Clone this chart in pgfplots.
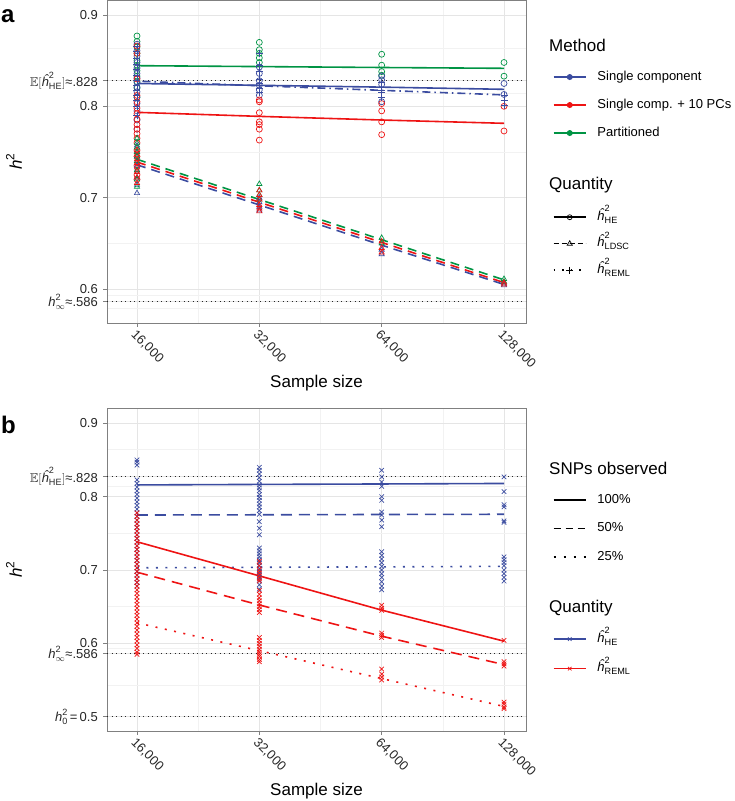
\documentclass[border=0pt]{standalone}
\usepackage{amsmath,amssymb}
\usepackage{fontspec}
\setmainfont{Liberation Sans}
\usepackage{pgfplots}
\pgfplotsset{compat=1.18}
\definecolor{cblue}{RGB}{59,76,160}
\definecolor{cred}{RGB}{238,20,20}
\definecolor{cgreen}{RGB}{0,148,68}
\newcommand{\hh}[1]{$\text{\itshape ĥ}^{\text{2}}_{\text{#1}}$}
\newcommand{\EHE}{$\mathbb{E}[\text{\itshape ĥ}^{\text{2}}_{\text{HE}}]$≈.828}
\newcommand{\hinf}{$\text{\itshape h}^{\text{2}}_{\infty}$≈.586}
\newcommand{\hzero}{$\text{\itshape h}^{\text{2}}_{\text{0}}$\,=\,0.5}
\pgfplotsset{
  mypanel/.style={
    scale only axis, width=419pt, height=323pt, anchor=south west,
    xmin=13500, xmax=145000,
    xtick={16000,32000,64000,128000},
    xticklabels={{16,000},{32,000},{64,000},{128,000}},
    minor xtick={22627,45255,90510},
    grid=both,
    major grid style={black!10, line width=0.9pt},
    minor grid style={black!5, line width=0.5pt},
    axis line style={black!50, line width=0.8pt},
    tick align=outside, major tick length=4pt, minor tick length=0pt,
    tick pos=left,
    major tick style={black!50, line width=0.8pt},
    tick label style={font=\fontsize{13}{13}\selectfont, text=black!85},
    xticklabel style={rotate=-45, anchor=north west, inner sep=1pt},
    yticklabel style={inner sep=2pt, xshift=-3pt},
    label style={font=\fontsize{17}{17}\selectfont},
    xlabel={Sample size},
    ylabel={$\text{\itshape h}^{\text{2}}$},
    xlabel style={at={(axis description cs:0.5,-0.186)}, anchor=center},
    ylabel style={at={(axis description cs:-0.222,0.5)}, anchor=center},
  },
  myleg/.style={
    scale only axis, width=419pt, height=323pt, anchor=south west, hide axis,
    xmin=0, xmax=1, ymin=0, ymax=1,
    legend cell align=left,
    legend image code/.code={\draw[mark repeat=2,mark phase=2] plot coordinates {(0pt,0pt)(16pt,0pt)(32pt,0pt)};},
    legend style={draw=none, fill=none, anchor=north west, inner sep=0pt, outer sep=0pt,
       font=\fontsize{13}{13}\selectfont, row sep=11pt,
       /tikz/every odd column/.append style={column sep=9pt},
       nodes={inner sep=2pt, text height=9.5pt, text depth=3pt}},
  },
  myref/.style={black!85, line width=1.1pt, dash pattern=on 1.1pt off 3.4pt},
  mypts/.style={only marks, mark size=3pt, mark options={line width=0.7pt, solid}},
  myfit/.style={line width=1.6pt, no marks},
}
\begin{document}
\begin{tikzpicture}
\path[use as bounding box] (0,0) rectangle (735pt,801pt);
\node[anchor=west, font=\bfseries\fontsize{24}{24}\selectfont, inner sep=0pt] at (1pt,785pt) {a};
\node[anchor=west, font=\bfseries\fontsize{24}{24}\selectfont, inner sep=0pt] at (1pt,376pt) {b};
% ---------------- panel a ----------------
\begin{axis}[xmode=log, mypanel, at={(107pt,478pt)}, ymin=0.5628, ymax=0.9164,
  ytick={0.586,0.6,0.7,0.8,0.828,0.9},
  yticklabels={{\hinf},0.6,0.7,0.8,{\EHE},0.9},
  minor ytick={0.579,0.593,0.65,0.75,0.814,0.864}]
\addplot[myref] coordinates {(13500,0.828) (145000,0.828)};
\addplot[myref] coordinates {(13500,0.586) (145000,0.586)};
% HE points (circles)
\addplot[mypts, mark=o, cgreen] coordinates {(16000,0.877)(16000,0.871)(16000,0.865)(16000,0.858)(16000,0.850)(16000,0.845)(16000,0.839)(16000,0.833)(16000,0.827)(16000,0.820)(16000,0.810)
 (32000,0.870)(32000,0.862)(32000,0.858)(32000,0.853)(32000,0.848)
 (64000,0.857)(64000,0.845)(64000,0.838)(64000,0.834)
 (128000,0.848)(128000,0.833)};
\addplot[mypts, mark=o, cblue] coordinates {(16000,0.868)(16000,0.861)(16000,0.855)(16000,0.848)(16000,0.842)(16000,0.836)(16000,0.831)(16000,0.826)(16000,0.821)(16000,0.816)(16000,0.810)(16000,0.803)(16000,0.795)(16000,0.785)(16000,0.775)
 (32000,0.843)(32000,0.836)(32000,0.828)(32000,0.823)(32000,0.818)(32000,0.812)
 (64000,0.833)(64000,0.829)(64000,0.824)(64000,0.805)
 (128000,0.825)(128000,0.813)};
\addplot[mypts, mark=o, cred] coordinates {(16000,0.866)(16000,0.858)(16000,0.830)(16000,0.812)(16000,0.805)(16000,0.798)(16000,0.792)(16000,0.786)(16000,0.780)(16000,0.775)(16000,0.770)(16000,0.765)(16000,0.760)(16000,0.752)(16000,0.745)(16000,0.735)(16000,0.725)(16000,0.720)
 (32000,0.807)(32000,0.805)(32000,0.793)(32000,0.783)(32000,0.780)(32000,0.775)(32000,0.763)
 (64000,0.803)(64000,0.795)(64000,0.783)(64000,0.769)
 (128000,0.800)(128000,0.773)};
% REML points (plus)
\addplot[mypts, mark=+, cblue, mark size=3.5pt] coordinates {(16000,0.866)(16000,0.860)(16000,0.853)(16000,0.846)(16000,0.840)(16000,0.834)(16000,0.828)(16000,0.823)(16000,0.818)(16000,0.812)(16000,0.806)(16000,0.800)(16000,0.790)
 (32000,0.858)(32000,0.845)(32000,0.838)(32000,0.830)(32000,0.825)(32000,0.820)(32000,0.815)
 (64000,0.826)(64000,0.818)(64000,0.815)(64000,0.810)
 (128000,0.812)(128000,0.806)(128000,0.801)};
% LDSC points (triangles)
\addplot[mypts, mark=triangle, cblue] coordinates {(16000,0.705)(16000,0.714)(16000,0.722)(16000,0.730)(16000,0.735)(16000,0.740)(16000,0.745)(16000,0.750)(16000,0.757)
 (32000,0.700)(32000,0.695)(32000,0.690)(32000,0.686)
 (64000,0.643)(64000,0.638)
 (128000,0.606)(128000,0.604)};
\addplot[mypts, mark=triangle, cgreen] coordinates {(16000,0.712)(16000,0.720)(16000,0.730)(16000,0.740)(16000,0.745)(16000,0.750)(16000,0.755)(16000,0.760)(16000,0.765)
 (32000,0.715)(32000,0.708)(32000,0.703)(32000,0.698)
 (64000,0.656)(64000,0.650)
 (128000,0.611)(128000,0.608)};
\addplot[mypts, mark=triangle, cred] coordinates {(16000,0.716)(16000,0.722)(16000,0.728)(16000,0.733)(16000,0.738)(16000,0.742)(16000,0.747)(16000,0.752)
 (32000,0.708)(32000,0.703)(32000,0.698)(32000,0.692)(32000,0.688)(32000,0.685)
 (64000,0.652)(64000,0.645)(64000,0.640)
 (128000,0.607)(128000,0.605)};
% fitted lines
\addplot[myfit, cgreen] coordinates {(16000,0.8445)(32000,0.8435)(64000,0.8425)(128000,0.8416)};
\addplot[myfit, cred] coordinates {(16000,0.7934)(32000,0.7890)(64000,0.7850)(128000,0.7814)};
\addplot[myfit, cblue] coordinates {(16000,0.8250)(32000,0.8230)(64000,0.8210)(128000,0.8186)};
\addplot[myfit, cblue, dash pattern=on 1.5pt off 4pt on 8pt off 4pt] coordinates {(16000,0.8275)(32000,0.8225)(64000,0.8175)(128000,0.8125)};
\addplot[myfit, cgreen, dash pattern=on 9pt off 6pt] coordinates {(16000,0.742)(32000,0.698)(64000,0.654)(128000,0.610)};
\addplot[myfit, cred, dash pattern=on 9pt off 6pt] coordinates {(16000,0.739)(32000,0.695)(64000,0.651)(128000,0.607)};
\addplot[myfit, cblue, dash pattern=on 9pt off 6pt] coordinates {(16000,0.736)(32000,0.692)(64000,0.648)(128000,0.605)};
\end{axis}
\begin{axis}[myleg, at={(107pt,478pt)}, legend style={at={(1.0644,0.787)}, row sep=11.5pt}]
\addlegendimage{cblue, line width=1.5pt, mark=*, mark size=2.2pt}
\addlegendentry{Single component}
\addlegendimage{cred, line width=1.5pt, mark=*, mark size=2.2pt}
\addlegendentry{Single comp. + 10 PCs}
\addlegendimage{cgreen, line width=1.5pt, mark=*, mark size=2.2pt}
\addlegendentry{Partitioned}
\end{axis}
\begin{axis}[myleg, at={(107pt,478pt)}, legend style={at={(1.0644,0.353)}, row sep=10pt}]
\addlegendimage{black, line width=1.5pt, mark=o, mark size=2.5pt, mark options={line width=0.7pt, solid}}
\addlegendentry{\hh{HE}}
\addlegendimage{black, line width=1.5pt, dash pattern=on 5pt off 3pt, mark=triangle, mark size=3pt, mark options={line width=0.7pt, solid}}
\addlegendentry{\hh{LDSC}}
\addlegendimage{black, line width=1.5pt, dash pattern=on 1.5pt off 7pt, mark=+, mark size=3.5pt, mark options={line width=0.9pt, solid}}
\addlegendentry{\hh{REML}}
\end{axis}
\node[anchor=west, font=\fontsize{17}{17}\selectfont, inner sep=0pt] at (549pt,756pt) {Method};
\node[anchor=west, font=\fontsize{17}{17}\selectfont, inner sep=0pt] at (549pt,616pt) {Quantity};
% ---------------- panel b ----------------
\begin{axis}[xmode=log, mypanel, at={(107pt,70pt)}, ymin=0.4805, ymax=0.9209,
  ytick={0.5,0.586,0.6,0.7,0.8,0.828,0.9},
  yticklabels={{\hzero},{\hinf},0.6,0.7,0.8,{\EHE},0.9},
  minor ytick={0.543,0.593,0.65,0.75,0.814,0.864}]
\addplot[myref] coordinates {(13500,0.828) (145000,0.828)};
\addplot[myref] coordinates {(13500,0.586) (145000,0.586)};
\addplot[myref] coordinates {(13500,0.5) (145000,0.5)};
\addplot[mypts, mark=x, cblue, mark size=3.2pt] coordinates {(16000,0.850)(16000,0.847)(16000,0.843)(16000,0.823)(16000,0.818)(16000,0.813)(16000,0.808)(16000,0.803)(16000,0.798)(16000,0.793)(16000,0.788)(16000,0.783)(16000,0.778)(16000,0.773)(16000,0.768)(16000,0.763)(16000,0.758)(16000,0.753)(16000,0.748)(16000,0.743)(16000,0.738)(16000,0.733)(16000,0.728)(16000,0.723)(16000,0.718)(16000,0.713)(16000,0.708)(16000,0.703)(16000,0.698)(16000,0.693)(16000,0.688)(16000,0.683)(16000,0.678)
 (32000,0.840)(32000,0.836)(32000,0.831)(32000,0.826)(32000,0.821)(32000,0.816)(32000,0.812)(32000,0.808)(32000,0.803)(32000,0.799)(32000,0.795)(32000,0.790)(32000,0.786)(32000,0.781)(32000,0.776)(32000,0.766)(32000,0.757)(32000,0.748)(32000,0.730)(32000,0.726)(32000,0.722)(32000,0.718)(32000,0.714)(32000,0.710)(32000,0.706)(32000,0.702)(32000,0.698)(32000,0.694)(32000,0.690)(32000,0.686)(32000,0.680)(32000,0.674)
 (64000,0.836)(64000,0.827)(64000,0.820)(64000,0.814)(64000,0.800)(64000,0.795)(64000,0.779)(64000,0.775)(64000,0.768)(64000,0.759)(64000,0.725)(64000,0.720)(64000,0.715)(64000,0.710)(64000,0.705)(64000,0.700)(64000,0.695)(64000,0.690)(64000,0.684)(64000,0.678)(64000,0.673)
 (128000,0.827)(128000,0.807)(128000,0.789)(128000,0.786)(128000,0.767)(128000,0.765)(128000,0.718)(128000,0.714)(128000,0.710)(128000,0.706)(128000,0.700)(128000,0.695)(128000,0.690)(128000,0.685)};
\addplot[mypts, mark=x, cred, mark size=3.2pt] coordinates {(16000,0.778)(16000,0.773)(16000,0.768)(16000,0.763)(16000,0.758)(16000,0.753)(16000,0.748)(16000,0.743)(16000,0.738)(16000,0.733)(16000,0.728)(16000,0.723)(16000,0.718)(16000,0.713)(16000,0.708)(16000,0.703)(16000,0.698)(16000,0.693)(16000,0.688)(16000,0.683)(16000,0.678)(16000,0.673)(16000,0.668)(16000,0.663)(16000,0.658)(16000,0.653)(16000,0.648)(16000,0.643)(16000,0.638)(16000,0.633)(16000,0.628)(16000,0.623)(16000,0.618)(16000,0.613)(16000,0.608)(16000,0.603)(16000,0.598)(16000,0.593)(16000,0.588)(16000,0.585)
 (32000,0.712)(32000,0.706)(32000,0.700)(32000,0.696)(32000,0.692)(32000,0.688)(32000,0.685)(32000,0.672)(32000,0.667)(32000,0.662)(32000,0.658)(32000,0.654)(32000,0.650)(32000,0.646)(32000,0.642)(32000,0.608)(32000,0.604)(32000,0.600)(32000,0.596)(32000,0.592)(32000,0.588)(32000,0.585)(32000,0.582)(32000,0.578)(32000,0.575)
 (64000,0.652)(64000,0.648)(64000,0.645)(64000,0.614)(64000,0.611)(64000,0.608)(64000,0.565)(64000,0.558)(64000,0.554)(64000,0.550)
 (128000,0.604)(128000,0.575)(128000,0.572)(128000,0.569)(128000,0.520)(128000,0.517)(128000,0.513)(128000,0.511)};
\addplot[myfit, cblue] coordinates {(16000,0.8160)(32000,0.8167)(64000,0.8173)(128000,0.8180)};
\addplot[myfit, cblue, dash pattern=on 11pt off 7pt] coordinates {(16000,0.7750)(32000,0.7753)(64000,0.7757)(128000,0.7760)};
\addplot[myfit, cblue, dash pattern=on 2pt off 7.5pt] coordinates {(16000,0.7030)(32000,0.7037)(64000,0.7043)(128000,0.7050)};
\addplot[myfit, cred] coordinates {(16000,0.7385)(32000,0.6920)(64000,0.6453)(128000,0.6030)};
\addplot[myfit, cred, dash pattern=on 11pt off 7pt] coordinates {(16000,0.6970)(32000,0.6523)(64000,0.6098)(128000,0.5710)};
\addplot[myfit, cred, dash pattern=on 2pt off 7.5pt] coordinates {(16000,0.6280)(32000,0.5900)(64000,0.5520)(128000,0.5140)};
\end{axis}
\begin{axis}[myleg, at={(107pt,70pt)}, legend style={at={(1.0644,0.740)}, row sep=12pt}]
\addlegendimage{black, line width=1.5pt}
\addlegendentry{100\%}
\addlegendimage{black, line width=1.5pt, dash pattern=on 7pt off 5pt}
\addlegendentry{50\%}
\addlegendimage{black, line width=1.5pt, dash pattern=on 2pt off 8pt}
\addlegendentry{25\%}
\end{axis}
\begin{axis}[myleg, at={(107pt,70pt)}, legend style={at={(1.0644,0.310)}, row sep=13pt}]
\addlegendimage{cblue, line width=1.5pt, mark=x, mark size=2.5pt, mark options={line width=0.7pt}}
\addlegendentry{\hh{HE}}
\addlegendimage{cred, line width=1.5pt, mark=x, mark size=2.5pt, mark options={line width=0.7pt}}
\addlegendentry{\hh{REML}}
\end{axis}
\node[anchor=west, font=\fontsize{17}{17}\selectfont, inner sep=0pt] at (549pt,333pt) {SNPs observed};
\node[anchor=west, font=\fontsize{17}{17}\selectfont, inner sep=0pt] at (549pt,193pt) {Quantity};
\end{tikzpicture}
\end{document}
